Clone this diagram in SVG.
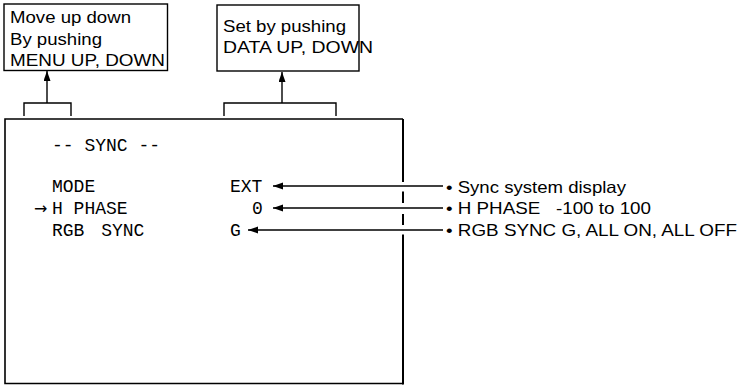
<svg xmlns="http://www.w3.org/2000/svg" width="741" height="385" viewBox="0 0 741 385">
<style>
.bx{fill:#fff;stroke:#000;stroke-width:1.4}
.ln{fill:none;stroke:#000;stroke-width:1.4}
.sans{font-family:"Liberation Sans",Arial,sans-serif;font-size:16.5px;fill:#000}
.mono{font-family:"Liberation Mono","Courier New",monospace;font-size:18px;fill:#000}
</style>
<defs>
<marker id="ah" markerUnits="userSpaceOnUse" markerWidth="11" markerHeight="8" refX="10" refY="3.5" orient="auto">
<path d="M0,0 L10,3.5 L0,7 z" fill="#000"/>
</marker>
</defs>
<rect width="741" height="385" fill="#fff"/>
<g id="menu-box">
<rect class="bx" x="4" y="4" width="163.5" height="66.5"/>
<text class="sans" x="10" y="23" textLength="121" lengthAdjust="spacingAndGlyphs">Move up down</text>
<text class="sans" x="10" y="44.5" textLength="92" lengthAdjust="spacingAndGlyphs">By pushing</text>
<text class="sans" x="10" y="66" textLength="155" lengthAdjust="spacingAndGlyphs">MENU UP, DOWN</text>
</g>
<g id="data-box">
<rect class="bx" x="217" y="5" width="142" height="66"/>
<text class="sans" x="223" y="32" textLength="123" lengthAdjust="spacingAndGlyphs">Set by pushing</text>
<text class="sans" x="223" y="53" textLength="150" lengthAdjust="spacingAndGlyphs">DATA UP, DOWN</text>
</g>
<g id="screen">
<path d="M403,119 H5 V383.5 H403" fill="none" stroke="#000" stroke-width="1.6"/>
<path d="M403,119 V182 M403,191.5 V203 M403,214 V225 M403,234.5 V384.5" fill="none" stroke="#000" stroke-width="2"/>
<text class="mono" x="52" y="150.5">-- SYNC --</text>
<text class="mono" x="52" y="192">MODE</text>
<text x="34" y="213.5" font-family="DejaVu Sans,sans-serif" font-size="16" fill="#000">→</text>
<text class="mono" x="52" y="214">H PHASE</text>
<text class="mono" x="52" y="236">RGB <tspan dx="6">SYNC</tspan></text>
<text class="mono" x="230" y="192">EXT</text>
<text class="mono" x="252" y="214">0</text>
<text class="mono" x="230" y="236">G</text>
</g>
<g id="connectors">
<path class="ln" d="M24,116 V103 H71 V116"/>
<line class="ln" x1="47" y1="103" x2="47" y2="71" marker-end="url(#ah)"/>
<path class="ln" d="M224,116 V103 H336 V116"/>
<line class="ln" x1="282" y1="103" x2="282" y2="72" marker-end="url(#ah)"/>
<line class="ln" x1="443" y1="186" x2="273" y2="186" marker-end="url(#ah)"/>
<line class="ln" x1="443" y1="208" x2="273" y2="208" marker-end="url(#ah)"/>
<line class="ln" x1="443" y1="230" x2="248" y2="230" marker-end="url(#ah)"/>
</g>
<g id="labels">
<text class="sans" x="446" y="192.5" textLength="180" lengthAdjust="spacingAndGlyphs">• Sync system display</text>
<text class="sans" x="446" y="214" textLength="205" lengthAdjust="spacingAndGlyphs" xml:space="preserve">• H PHASE   -100 to 100</text>
<text class="sans" x="446" y="236" textLength="291" lengthAdjust="spacingAndGlyphs">• RGB SYNC G, ALL ON, ALL OFF</text>
</g>
</svg>
